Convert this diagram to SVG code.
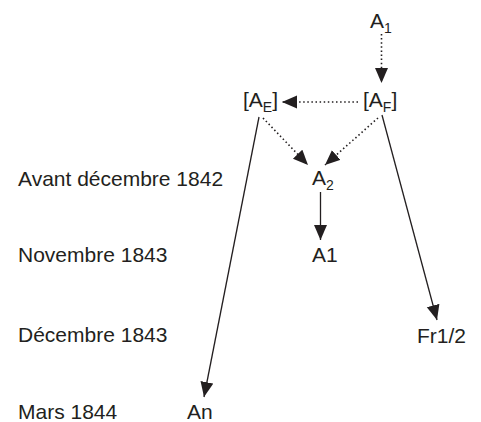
<svg xmlns="http://www.w3.org/2000/svg" width="481" height="422" viewBox="0 0 481 422">
<style>
text{font-family:"Liberation Sans",Arial,sans-serif;font-size:21px;fill:#231f20}
.sub{font-size:14px}
.c{stroke:#231f20;stroke-width:1.3;fill:none}
.d{stroke-width:1.6;stroke-dasharray:1.5 2.6}
</style>
<defs>
<marker id="ah" markerUnits="userSpaceOnUse" markerWidth="16" markerHeight="14" refX="15" refY="6.5" orient="auto">
<path d="M0,0 L15,6.5 L0,13 Z" fill="#231f20"/>
</marker>
</defs>
<g id="labels">
<text x="18" y="186">Avant décembre 1842</text>
<text x="18" y="262">Novembre 1843</text>
<text x="18" y="342">Décembre 1843</text>
<text x="18" y="419">Mars 1844</text>
</g>
<g id="n-A1top"><text x="370" y="28">A<tspan class="sub" dy="5">1</tspan></text></g>
<g id="n-AE"><text x="243" y="107">[A<tspan class="sub" dy="5">E</tspan><tspan dy="-5">]</tspan></text></g>
<g id="n-AF"><text x="363" y="107">[A<tspan class="sub" dy="5">F</tspan><tspan dy="-5">]</tspan></text></g>
<g id="n-A2"><text x="312" y="185">A<tspan class="sub" dy="5">2</tspan></text></g>
<g id="n-A1"><text x="312" y="262">A1</text></g>
<g id="n-Fr"><text x="417" y="343">Fr1/2</text></g>
<g id="n-An"><text x="187" y="419">An</text></g>
<g id="connectors">
<line class="c d" x1="381.5" y1="34" x2="381.5" y2="83" marker-end="url(#ah)"/>
<line class="c d" x1="358" y1="102" x2="282" y2="102" marker-end="url(#ah)"/>
<line class="c d" x1="263" y1="118" x2="308" y2="165" marker-end="url(#ah)"/>
<line class="c d" x1="378" y1="118" x2="325" y2="165" marker-end="url(#ah)"/>
<line class="c" x1="320.5" y1="192" x2="320.5" y2="240" marker-end="url(#ah)"/>
<line class="c" x1="382" y1="115" x2="437" y2="320" marker-end="url(#ah)"/>
<line class="c" x1="259" y1="117" x2="204" y2="397" marker-end="url(#ah)"/>
</g>
</svg>
